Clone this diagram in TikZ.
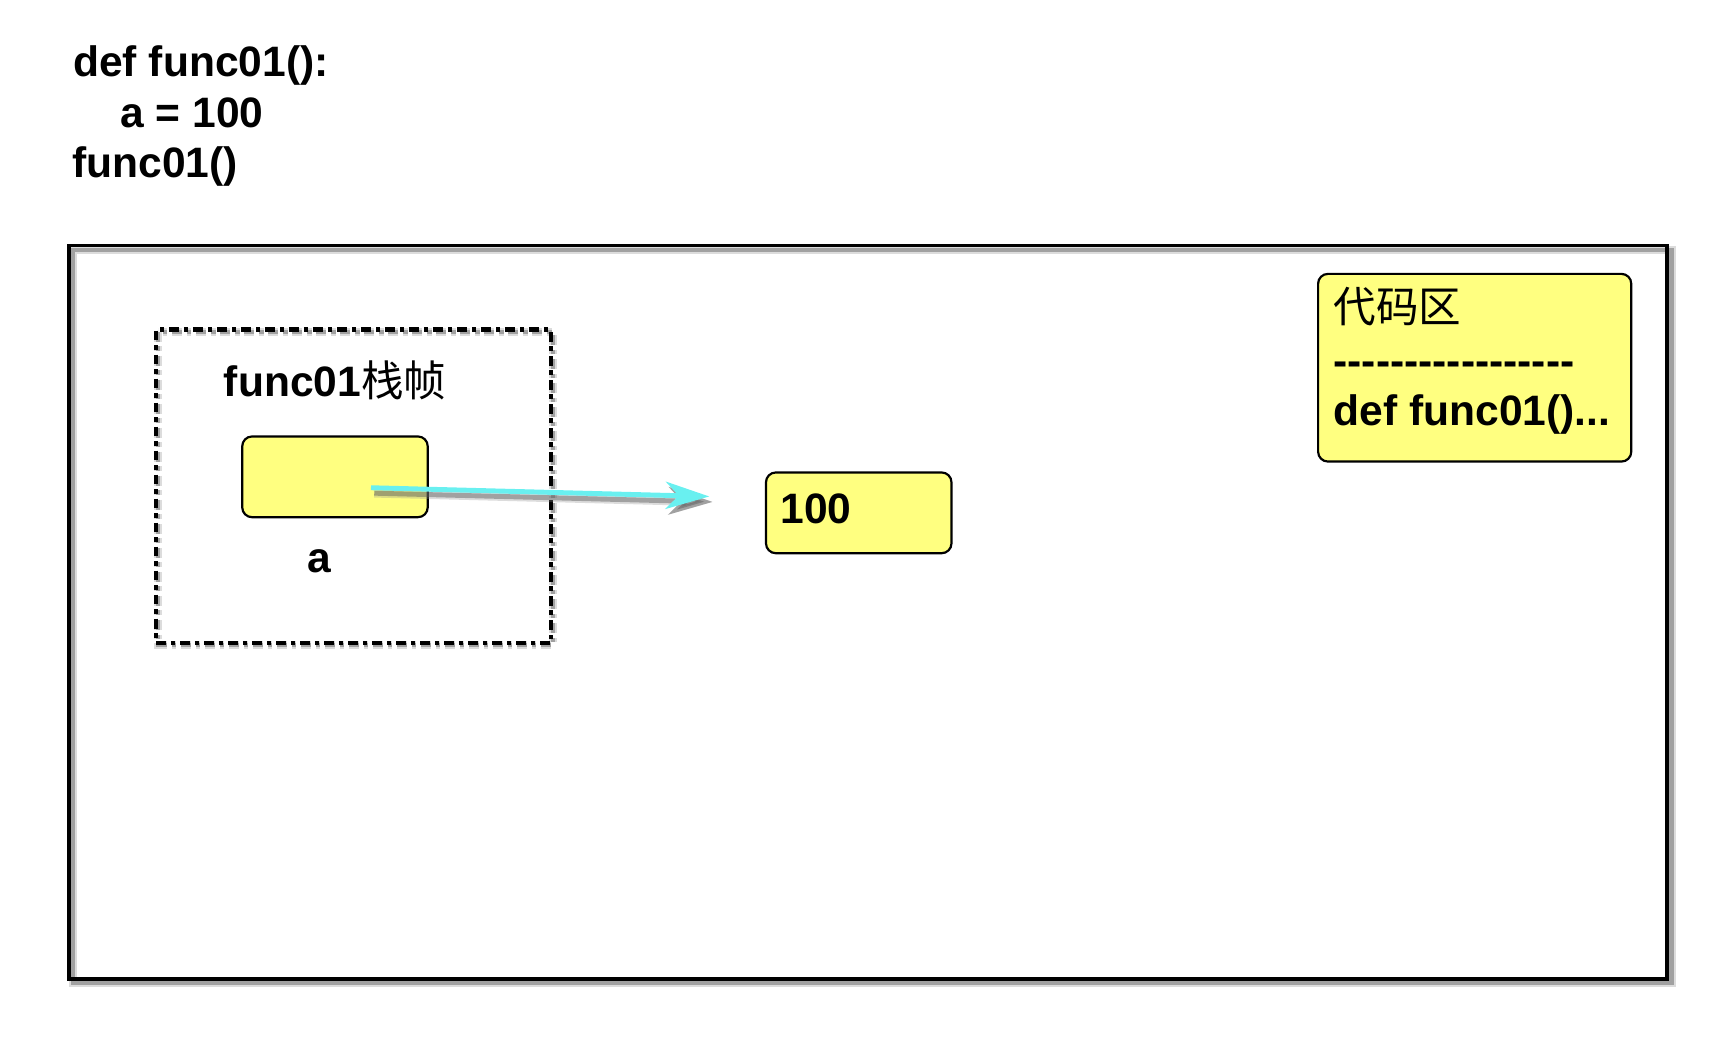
\documentclass[tikz,border=0pt]{standalone}
\usepackage{fontspec}
\setmainfont{Liberation Sans}
\newfontfamily\cjk{Noto Sans CJK SC}
\usetikzlibrary{arrows.meta,calc}
\definecolor{boxyellow}{RGB}{255,255,128}
\definecolor{arrowcyan}{RGB}{105,240,240}
\begin{document}
\begin{tikzpicture}[x=1pt,y=-1pt,
  font=\fontsize{39}{46.5}\selectfont\bfseries,
  txt/.style={inner sep=0pt, anchor=base west},
  ybox/.style={draw=black, line width=2pt, fill=boxyellow, rounded corners=9pt, anchor=north west},
  shade/.style={draw=black!65, opacity=0.45},
  shadeb/.style={draw=black!45, opacity=0.3},
  dashdot/.style={dash pattern=on 9pt off 4.5pt on 4pt off 4.5pt},
  ptr/.style={-{Stealth[length=40pt,width=25pt,inset=12pt]}, line width=4.5pt}
]
\useasboundingbox (0,0) rectangle (1569,971);
% code text
\node[txt] (code1) at (67,70) {def func01():};
\node[txt] (code2) at (110,117) {a = 100};
\node[txt] (code3) at (66,163) {func01()};
% main frame
\draw[shadeb, line width=8pt] (67,229) rectangle (1532,901);
\draw[shade, line width=4pt] (67,229) rectangle (1532,901);
\draw[line width=3.5pt] (63,225) rectangle (1528,897);
% stack frame
\draw[shadeb, line width=7pt, dashdot] (145,304) rectangle (507,591);
\draw[shade, line width=4pt, dashdot] (145,304) rectangle (507,591);
\node[draw, line width=4pt, dashdot, anchor=north west, minimum width=362pt, minimum height=287pt, inner sep=0pt] (frame) at (141,300) {};
\node[txt] (ftitle) at (205,363) {func01{\cjk\mdseries 栈帧}};
\node[ybox, minimum width=170pt, minimum height=74pt] (abox) at (221,399) {};
\node[inner sep=0pt, anchor=base] (alabel) at (293,525) {a};
% value
\node[ybox, minimum width=170pt, minimum height=74pt] (val) at (701,432) {};
\node[txt] (valtxt) at (715,480) {100};
% arrow
\coordinate (astart) at (340,447);
\coordinate (aend) at (650,455);
\draw[ptr, shadeb, line width=8pt] ($(astart)+(3,5)$) -- ($(aend)+(3,5)$);
\draw[ptr, shade] ($(astart)+(3,5)$) -- ($(aend)+(3,5)$);
\draw[ptr, arrowcyan] (astart) -- (aend);
% code area
\node[ybox, minimum width=287pt, minimum height=172pt] (codearea) at (1207,250) {};
\node[txt] (ca1) at (1222,296) {\cjk\mdseries 代码区};
\node[txt] (ca2) at (1222,344) {-{}-{}-{}-{}-{}-{}-{}-{}-{}-{}-{}-{}-{}-{}-{}-{}-};
\node[txt] (ca3) at (1222,390) {def func01()...};
\end{tikzpicture}
\end{document}
